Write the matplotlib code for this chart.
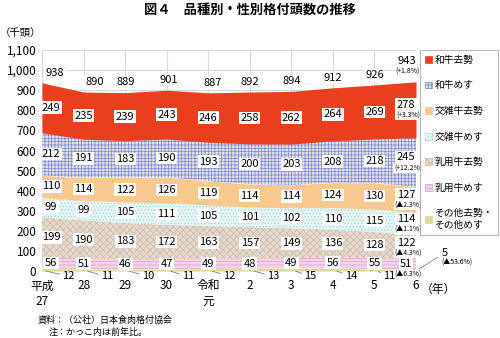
import matplotlib
matplotlib.use("Agg")
import matplotlib.pyplot as plt
from matplotlib.patches import Patch
import numpy as np

plt.rcParams['font.family'] = ['Noto Sans CJK JP', 'DejaVu Sans']
plt.rcParams['hatch.linewidth'] = 0.5

# Graded head counts (thousand head) by breed and sex
years = ['平成\n27', '28', '29', '30', '令和\n元', '2', '3', '4', '5', '6']
wagyu_steer = [249, 235, 239, 243, 246, 258, 262, 264, 269, 278]
wagyu_heifer = [212, 191, 183, 190, 193, 200, 203, 208, 218, 245]
cross_steer = [110, 114, 122, 126, 119, 114, 114, 124, 130, 127]
cross_heifer = [99, 99, 105, 111, 105, 101, 102, 110, 115, 114]
dairy_steer = [199, 190, 183, 172, 163, 157, 149, 136, 128, 122]
dairy_heifer = [56, 51, 46, 47, 49, 48, 49, 56, 55, 51]
others = [12, 11, 10, 11, 12, 13, 15, 14, 11, 5]
totals = [938, 890, 889, 901, 887, 892, 894, 912, 926, 943]

# Year-on-year change for the latest year
pct_total = '(+1.8%)'
pct_series = ['(+3.3%)', '(+12.2%)', '(▲2.3%)', '(▲1.1%)', '(▲4.3%)', '(▲6.3%)', '(▲53.6%)']

names = ['和牛去勢', '和牛めす', '交雑牛去勢', '交雑牛めす', '乳用牛去勢', '乳用牛めす', 'その他去勢・\nその他めす']
series_top_down = [wagyu_steer, wagyu_heifer, cross_steer, cross_heifer, dairy_steer, dairy_heifer, others]

# style per series: facecolor, hatch color, hatch
styles = [
    ('#E8401E', '#E8401E', None),
    ('#DDE0F2', '#7E86C6', '+++++'),
    ('#F9C88C', '#F9C88C', None),
    ('#E4F5F5', '#AAD8D8', '.....'),
    ('#E6D9CC', '#CDB9A6', 'xxxxx'),
    ('#F5D4EB', '#DE9CCB', '-----'),
    ('#DEDA9E', '#DEDA9E', None),
]

fig = plt.figure(figsize=(5, 3.38), dpi=100)
ax = fig.add_axes([0.084, 0.198, 0.748, 0.654])

x = np.arange(len(years))
order = list(range(len(series_top_down)))[::-1]  # bottom to top
base = np.zeros(len(years))
bounds = {}
for k in order:
    vals = np.array(series_top_down[k], dtype=float)
    fc, hc, h = styles[k]
    ax.fill_between(x, base, base + vals, facecolor=fc, edgecolor=hc,
                    hatch=h, linewidth=0, zorder=2)
    bounds[k] = (base.copy(), base + vals)
    base = base + vals

ax.set_xlim(0, 9)
ax.set_ylim(0, 1100)
ax.set_yticks(range(0, 1101, 100))
ax.set_yticklabels([f'{v:,}' for v in range(0, 1101, 100)], fontsize=8.5)
ax.set_xticks(x)
ax.set_xticklabels(years, fontsize=8.5, linespacing=1.25)
ax.tick_params(length=0)
ax.tick_params(axis='y', pad=4)
ax.tick_params(axis='x', pad=6)
ax.grid(True, color='#D9D9D9', linewidth=0.8, zorder=0)
ax.set_axisbelow(True)
for s in ax.spines.values():
    s.set_visible(False)

PX = 0.72  # points per pixel at 100 dpi
box = dict(boxstyle='square,pad=0.12', fc='white', ec='none')
small_box = dict(boxstyle='square,pad=0.1', fc='white', ec='none')

def col_dx(i):
    if i == 0:
        return 9 * PX
    if i == len(years) - 1:
        return -10 * PX
    return 0

# band labels (all series except the thin bottom one)
last = len(years) - 1
for k in range(6):
    lo, hi = bounds[k]
    vals = series_top_down[k]
    for i in x:
        mid = (lo[i] + hi[i]) / 2
        if i == last:
            up = 5 * PX if k < 5 else 1 * PX
            ax.annotate(str(vals[i]), (i, mid), xytext=(col_dx(i), up),
                        textcoords='offset points', ha='center', va='center',
                        fontsize=8, bbox=box, zorder=5, annotation_clip=False)
            ax.annotate(pct_series[k], (i, mid), xytext=(col_dx(i) + 2 * PX, up - 11 * PX),
                        textcoords='offset points', ha='center', va='center',
                        fontsize=5, bbox=small_box, zorder=5, annotation_clip=False)
        else:
            ax.annotate(str(vals[i]), (i, mid), xytext=(col_dx(i), 0),
                        textcoords='offset points', ha='center', va='center',
                        fontsize=8, bbox=box, zorder=5)

# thin bottom series: labels below the axis with leader lines
other_dx = [25, 22, 22, 20, 20, 22, 18, 17, 14]
for i in x[:-1]:
    ax.annotate(str(others[i]), (i + 0.03, others[i] * 0.3), xytext=(other_dx[i] * PX, -6 * PX),
                textcoords='offset points', ha='center', va='center', fontsize=8,
                arrowprops=dict(arrowstyle='-', color='#7F7F7F', lw=0.6,
                                shrinkA=0, shrinkB=2),
                annotation_clip=False, zorder=5)
ax.annotate(str(others[last]), (last, others[last] * 0.3), xytext=(29 * PX, 18 * PX),
            textcoords='offset points', ha='center', va='center', fontsize=8,
            arrowprops=dict(arrowstyle='-', color='#7F7F7F', lw=0.6, shrinkA=1, shrinkB=3),
            annotation_clip=False, zorder=5)
ax.annotate(pct_series[6], (last, 0), xytext=(41 * PX, 8 * PX),
            textcoords='offset points', ha='center', va='center', fontsize=5,
            annotation_clip=False, zorder=5)

# totals above the stack
tot_dx = [13, 11, 1, 2, 4, 0, 0, 0, 0, -9]
for i in x:
    if i == last:
        ax.annotate(str(totals[i]), (i, totals[i]), xytext=(tot_dx[i] * PX, 21 * PX),
                    textcoords='offset points', ha='center', va='center',
                    fontsize=8, bbox=box, zorder=5, annotation_clip=False)
        ax.annotate(pct_total, (i, totals[i]), xytext=((tot_dx[i] + 1) * PX, 10 * PX),
                    textcoords='offset points', ha='center', va='center',
                    fontsize=5, bbox=small_box, zorder=5, annotation_clip=False)
    else:
        ax.annotate(str(totals[i]), (i, totals[i]), xytext=(tot_dx[i] * PX, 10 * PX),
                    textcoords='offset points', ha='center', va='center',
                    fontsize=8, bbox=box, zorder=5)

# titles and notes
fig.text(0.5, 1 - 10 / 338, '図４　品種別・性別格付頭数の推移', ha='center', va='center',
         fontsize=9.5, fontweight='bold')
fig.text(0.0, 1 - 33 / 338, '（千頭）', ha='left', va='center', fontsize=7.5)
fig.text(438 / 500, 1 - 289 / 338, '（年）', ha='center', va='center', fontsize=8.5)
fig.text(38 / 500, 1 - 320 / 338, '資料：（公社）日本食肉格付協会', ha='left', va='center', fontsize=6.5)
fig.text(49 / 500, 1 - 332 / 338, '注：かっこ内は前年比。', ha='left', va='center', fontsize=6.5)

# legend
handles = [Patch(facecolor=fc, edgecolor=hc, hatch=h, linewidth=0.5) for fc, hc, h in styles]
leg = fig.legend(handles, names, loc='upper right', bbox_to_anchor=(498 / 500, 1 - 50 / 338),
                 fontsize=7, frameon=True, fancybox=False, edgecolor='#A6A6A6',
                 handlelength=0.7, handleheight=0.7, handletextpad=0.3,
                 labelspacing=1.6, borderpad=0.5, borderaxespad=0)
leg.get_frame().set_linewidth(0.8)

fig.savefig('out.png', dpi=100)
